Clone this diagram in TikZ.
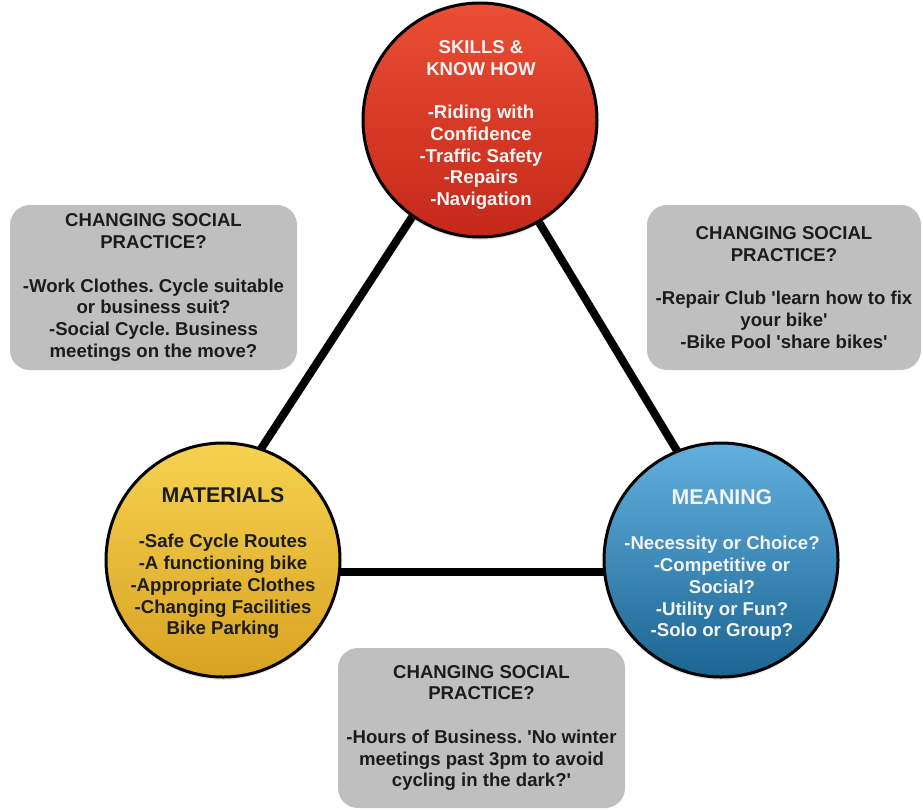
\documentclass[tikz,border=0pt]{standalone}
\usepackage{fontspec}
\newfontfamily\labelfont{Liberation Sans}
\usetikzlibrary{backgrounds,shadows}
\frenchspacing

\definecolor{skillsTop}{RGB}{234,78,52}
\definecolor{skillsBot}{RGB}{196,40,26}
\definecolor{matTop}{RGB}{246,210,80}
\definecolor{matBot}{RGB}{216,162,34}
\definecolor{meanTop}{RGB}{98,176,222}
\definecolor{meanBot}{RGB}{28,100,146}
\definecolor{boxgray}{RGB}{191,191,191}
\definecolor{ink}{RGB}{28,28,28}
\definecolor{paleink}{RGB}{244,244,244}

\newcommand\bodytext{\labelfont\bfseries\frenchspacing\fontsize{18.6}{21.7}\selectfont}
\newcommand\hubtitle{\labelfont\bfseries\fontsize{21.3}{25}\selectfont}

\tikzset{
  hub/.style={circle, draw=black, line width=3pt, minimum size=234pt,
    inner sep=0pt,
    drop shadow={opacity=0.18, shadow xshift=0pt, shadow yshift=-3pt}},
  hubtext/.style={align=center, font=\bodytext, inner sep=0pt},
  notebox/.style={rounded corners=20pt, fill=boxgray, inner sep=0pt,
    align=center, font=\bodytext, text=ink},
  link/.style={line width=8pt, black, shorten <=-6pt, shorten >=-6pt},
}

\begin{document}
\begin{tikzpicture}[x=1pt, y=-1pt]
  \useasboundingbox (0,0) rectangle (923,811);

  % the three elements of the practice
  \node[hub, top color=skillsTop, bottom color=skillsBot] (skills) at (480,120) {};
  \node[hub, top color=matTop, bottom color=matBot] (materials) at (223,560) {};
  \node[hub, top color=meanTop, bottom color=meanBot] (meaning) at (721,560) {};

  \node[hubtext, text=paleink] (skillsText) at (481,125)
    {SKILLS \&\\KNOW HOW\\[21.7pt]-Riding with\\Confidence\\-Traffic Safety\\-Repairs\\-Navigation};
  \node[hubtext, text=ink] (materialsText) at (223,563)
    {{\hubtitle MATERIALS}\\[24pt]-Safe Cycle Routes\\-A functioning bike\\-Appropriate Clothes\\-Changing Facilities\\Bike Parking};
  \node[hubtext, text=paleink] (meaningText) at (722,565)
    {{\hubtitle MEANING}\\[24pt]-Necessity or Choice?\\-Competitive or\\Social?\\-Utility or Fun?\\-Solo or Group?};

  % links between the elements, kept behind the circles
  \begin{scope}[on background layer]
    \draw[link] (skills.235) -- (materials.71);
    \draw[link] (skills.300) -- (meaning.112);
    \draw[link] (materials.-6) -- (meaning.186);
  \end{scope}

  % questions about changing practice
  \node[notebox, minimum width=287pt, minimum height=165pt] (noteLeft) at (153.5,287.5)
    {CHANGING SOCIAL\\PRACTICE?\\[21.7pt]-Work Clothes. Cycle suitable\\or business suit?\\-Social Cycle. Business\\meetings on the move?};
  \node[notebox, minimum width=274pt, minimum height=165pt] (noteRight) at (784,287.5)
    {CHANGING SOCIAL\\PRACTICE?\\[21.7pt]-Repair Club 'learn how to fix\\your bike'\\-Bike Pool 'share bikes'};
  \node[notebox, minimum width=287pt, minimum height=160pt] (noteBottom) at (481.5,728)
    {CHANGING SOCIAL\\PRACTICE?\\[21.7pt]-Hours of Business. 'No winter\\meetings past 3pm to avoid\\cycling in the dark?'};
\end{tikzpicture}
\end{document}
